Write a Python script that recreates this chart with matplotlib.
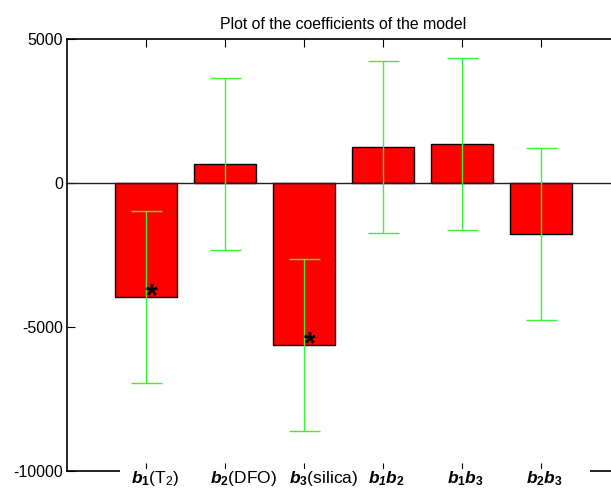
import matplotlib
matplotlib.use('Agg')
import matplotlib.pyplot as plt
from matplotlib.patches import Rectangle

# coefficients
coef_labels = [r'$\mathbfit{b}_{\mathbf{1}}$(T$_{\mathregular{2}}$)',
               r'$\mathbfit{b}_{\mathbf{2}}$(DFO)',
               r'$\mathbfit{b}_{\mathbf{3}}$(silica)',
               r'$\mathbfit{b}_{\mathbfit{1}}\mathbfit{b}_{\mathbf{2}}$',
               r'$\mathbfit{b}_{\mathbf{1}}\mathbfit{b}_{\mathbf{3}}$',
               r'$\mathbfit{b}_{\mathbf{2}}\mathbfit{b}_{\mathbf{3}}$']
coef_values = [-3960, 670, -5620, 1260, 1360, -1770]
coef_error = [2990, 2990, 2990, 2990, 2990, 2990]
significant = [True, False, True, False, False, False]
y_ticks = [-10000, -5000, 0, 5000]

plt.rcParams['font.family'] = ['Liberation Sans', 'DejaVu Sans']
plt.rcParams['axes.unicode_minus'] = False
plt.rcParams['mathtext.fontset'] = 'custom'
plt.rcParams['mathtext.rm'] = 'Liberation Sans'
plt.rcParams['mathtext.it'] = 'Liberation Sans:italic'
plt.rcParams['mathtext.bf'] = 'Liberation Sans:bold'
plt.rcParams['mathtext.bfit'] = 'Liberation Sans:italic:bold'

fig = plt.figure(figsize=(6.11, 5.0), dpi=100)
ax = fig.add_axes([67 / 611, 29 / 500, 553 / 611, 432 / 500])

pos = list(range(1, len(coef_values) + 1))
ax.bar(pos, coef_values, width=0.79, color='#ff0000', edgecolor='black', linewidth=1, zorder=1)
ax.errorbar(pos, coef_values, yerr=coef_error, fmt='none', ecolor='#3cf03c',
            elinewidth=1, capsize=15.5 * 72 / 100, capthick=1, zorder=2)
ax.axhline(0, color='#202020', linewidth=1, zorder=1.8)

for x, v, s in zip(pos, coef_values, significant):
    if s:
        ax.text(x, v, '*', ha='left', va='center', fontsize=22, fontweight='bold', zorder=4)

ax.set_xlim(0, 7)
ax.set_ylim(-10000, 5000)
ax.set_yticks(y_ticks)
ax.set_yticklabels([str(t) for t in y_ticks], fontsize=11.5)
ax.set_xticks(pos)
ax.set_xticklabels([])
ax.tick_params(axis='both', direction='in', length=6, width=0.8, top=True, right=True, pad=3)
for sp in ax.spines.values():
    sp.set_linewidth(1.2)

# white box behind the tick labels hides the middle of the bottom spine
ax.add_patch(Rectangle((120 / 611, 0), 470 / 611, 31.5 / 500, transform=fig.transFigure,
                       facecolor='white', edgecolor='none', clip_on=False, zorder=3))

for x, lab in zip(pos, coef_labels):
    ax.annotate(lab, xy=(x, 0), xycoords=('data', 'axes fraction'), xytext=(-15, -12),
                textcoords='offset pixels', ha='left', va='baseline', fontsize=12.5, zorder=5)

ax.set_title('Plot of the coefficients of the model', fontsize=11.4, pad=7)

fig.savefig('out.png', dpi=100)
